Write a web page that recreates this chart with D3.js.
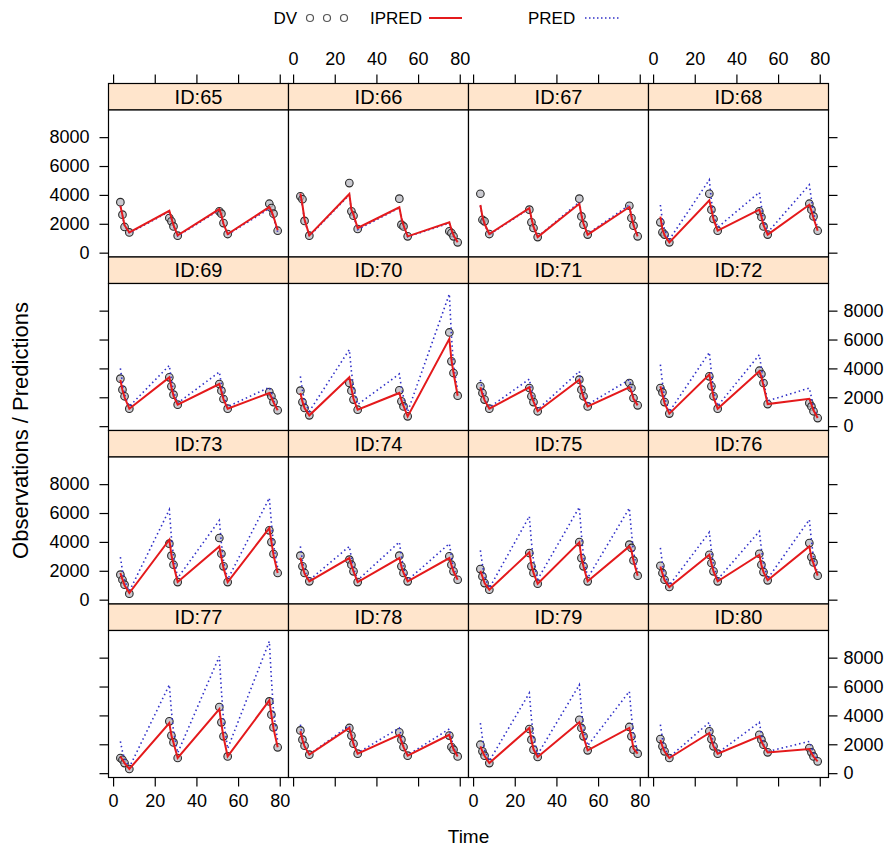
<!DOCTYPE html>
<html>
<head>
<meta charset="utf-8">
<script src="https://cdn.jsdelivr.net/npm/d3@7"></script>
<style>
  body { margin: 0; background: #fff; }
  svg { font-family: "Liberation Sans", Arial, sans-serif; }
</style>
</head>
<body>
<svg id="chart" width="895" height="856"></svg>
<script>
// panel ids, sampling times and tick labels
const ids = [65, 66, 67, 68, 69, 70, 71, 72, 73, 74, 75, 76, 77, 78, 79, 80];
const times = [3.5, 4.5, 5.5, 7.8, 27, 28, 29, 31, 51, 52, 53, 55, 75, 76, 77, 79];
const xTicks = [0, 20, 40, 60, 80];
const yTicks = [0, 2000, 4000, 6000, 8000];

// observations, one row per id
const dv = [
  [3500, 2630, 1780, 1400, 2400, 2170, 1820, 1180, 2860, 2700, 2050, 1290, 3390, 3090, 2700, 1520],
  [3900, 3700, 2200, 1180, 4820, 2860, 2560, 1640, 3740, 1940, 1820, 1130, 1480, 1360, 1130, 715],
  [4080, 2280, 2170, 1290, 2980, 2100, 1710, 1080, 3740, 2510, 1940, 1250, 3250, 2400, 1870, 1130],
  [2100, 1410, 1250, 715, 4080, 2980, 2330, 1520, 2860, 2470, 1820, 1250, 3390, 2980, 2510, 1520],
  [3290, 2530, 2070, 1210, 3380, 2760, 2180, 1490, 2920, 2460, 1880, 1210, 2360, 2070, 1670, 1100],
  [2460, 1670, 1260, 750, 2990, 2460, 1840, 1140, 2480, 1720, 1370, 680, 6490, 4490, 3680, 2110],
  [2760, 2300, 1840, 1210, 2640, 2070, 1670, 1030, 3220, 2530, 2070, 1370, 2990, 2640, 1950, 1440],
  [2640, 2340, 1670, 870, 3450, 2760, 2070, 1210, 3840, 3610, 2990, 1530, 1600, 1370, 1030, 560],
  [1730, 1380, 1040, 415, 3880, 3050, 2420, 1220, 4270, 3180, 2310, 1220, 4800, 3990, 3160, 1850],
  [3050, 2310, 1850, 1270, 2770, 2420, 1960, 1220, 3050, 2310, 1850, 1270, 3000, 2420, 1960, 1380],
  [2120, 1610, 1150, 690, 3230, 2310, 1850, 1110, 3990, 2880, 2310, 1270, 3810, 3580, 2720, 1660],
  [2350, 1850, 1380, 880, 3110, 2540, 1960, 1270, 3180, 2420, 1910, 1340, 3920, 2950, 2580, 1660],
  [1050, 930, 700, 290, 3590, 2600, 2130, 1050, 4580, 3520, 2550, 1160, 4970, 4050, 3170, 1790],
  [2960, 2320, 1900, 1280, 3130, 2600, 2040, 1350, 2830, 2320, 1810, 1210, 2600, 1810, 1630, 1160],
  [1970, 1510, 1210, 700, 3060, 2320, 1630, 1120, 3700, 3130, 2550, 1580, 3200, 2550, 1630, 1350],
  [2360, 1860, 1510, 1050, 2900, 2360, 1860, 1350, 2660, 2320, 1970, 1440, 1740, 1440, 1160, 820]
];

// individual predictions
const ipred = [
  [3250, 2600, 1900, 1400, 2900, 2400, 1900, 1200, 3020, 2600, 2000, 1290, 3160, 2900, 2500, 1550],
  [4100, 3300, 2300, 1200, 4060, 2980, 2630, 1710, 3140, 2400, 1900, 1130, 2100, 1600, 1200, 715],
  [3300, 2500, 2000, 1290, 3090, 2400, 1800, 1080, 3390, 2600, 2000, 1250, 3160, 2500, 1900, 1130],
  [2500, 1600, 1200, 715, 3620, 3000, 2300, 1520, 2980, 2500, 1900, 1250, 3320, 2900, 2400, 1520],
  [3200, 2500, 2000, 1210, 3380, 2700, 2100, 1490, 2920, 2400, 1850, 1210, 2300, 2000, 1650, 1100],
  [2300, 1700, 1250, 750, 3380, 2600, 1900, 1140, 2300, 1800, 1400, 680, 6050, 4600, 3700, 2110],
  [2700, 2200, 1800, 1210, 2690, 2100, 1700, 1030, 3220, 2500, 2000, 1370, 2690, 2400, 1900, 1440],
  [2760, 2200, 1600, 870, 3570, 2800, 2000, 1210, 3800, 3400, 2800, 1530, 1900, 1500, 1100, 560],
  [1850, 1400, 1000, 460, 4150, 3100, 2400, 1220, 3690, 2900, 2200, 1220, 4960, 4000, 3100, 1850],
  [2900, 2300, 1800, 1270, 2880, 2400, 1950, 1220, 2880, 2300, 1850, 1270, 2880, 2400, 1950, 1380],
  [2000, 1600, 1150, 690, 3280, 2400, 1850, 1110, 3970, 2900, 2300, 1270, 3690, 3400, 2700, 1660],
  [2300, 1800, 1350, 880, 3110, 2500, 1950, 1270, 3110, 2400, 1900, 1340, 3690, 2900, 2500, 1660],
  [1160, 930, 700, 290, 3470, 2600, 2100, 1050, 4440, 3400, 2500, 1160, 5040, 4000, 3100, 1790],
  [2900, 2300, 1850, 1280, 3130, 2600, 2000, 1350, 2660, 2200, 1800, 1210, 2660, 2100, 1650, 1160],
  [1860, 1500, 1200, 700, 3130, 2300, 1650, 1120, 3520, 3000, 2500, 1580, 3130, 2500, 1700, 1350],
  [2300, 1850, 1500, 1050, 2780, 2300, 1850, 1350, 2550, 2200, 1900, 1440, 1670, 1400, 1150, 820]
];

// population predictions
const pred = [
  [3200, 2550, 1850, 1350, 2850, 2350, 1850, 1150, 2950, 2550, 1950, 1250, 3050, 2800, 2400, 1450],
  [4000, 3200, 2250, 1150, 4000, 2900, 2550, 1600, 3100, 2350, 1850, 1100, 2050, 1550, 1150, 700],
  [3250, 2450, 1950, 1250, 3050, 2350, 1750, 1100, 3500, 2700, 2050, 1300, 3300, 2600, 1950, 1180],
  [3300, 2200, 1600, 900, 5050, 3600, 2600, 1750, 4180, 3200, 2300, 1400, 4700, 3700, 2800, 1700],
  [4000, 3000, 2200, 1370, 4210, 3200, 2400, 1600, 3750, 2900, 2100, 1350, 2690, 2300, 1800, 1150],
  [3450, 2500, 1700, 1030, 5300, 3800, 2700, 1500, 3610, 2700, 2000, 1000, 9150, 6300, 4200, 2500],
  [3200, 2500, 1900, 1300, 3260, 2500, 1900, 1150, 3800, 2900, 2200, 1500, 3220, 2700, 2000, 1450],
  [4260, 3000, 2000, 1000, 5110, 3700, 2500, 1400, 4950, 4000, 3100, 1750, 2640, 2000, 1300, 650],
  [2950, 2000, 1300, 580, 6230, 4300, 3000, 1500, 5490, 3900, 2700, 1400, 7040, 5300, 3800, 2200],
  [3690, 2700, 2000, 1350, 3690, 2900, 2200, 1350, 3990, 3000, 2200, 1350, 3880, 3000, 2200, 1450],
  [3410, 2400, 1600, 800, 5770, 4000, 2700, 1400, 6410, 4500, 3000, 1500, 6340, 4700, 3300, 1900],
  [3580, 2500, 1700, 1000, 4660, 3400, 2400, 1400, 4730, 3500, 2500, 1450, 5540, 4100, 2900, 1800],
  [2200, 1500, 1000, 400, 6120, 4300, 2900, 1400, 8090, 5700, 3700, 1700, 9130, 6500, 4300, 2200],
  [3360, 2500, 1900, 1300, 3290, 2700, 2100, 1400, 3130, 2500, 1900, 1250, 3060, 2400, 1800, 1200],
  [3470, 2400, 1600, 850, 5550, 3800, 2500, 1300, 6120, 4400, 3100, 1900, 5660, 4000, 2700, 1500],
  [3360, 2400, 1700, 1100, 3520, 2700, 2000, 1400, 3520, 2700, 2000, 1500, 2200, 1800, 1400, 900]
];

const svg = d3.select("#chart");
const nCol = 4, nRow = 4;
const gridLeft = 108.5, gridTop = 83.5;
const colW = 180, rowH = 173.5, stripH = 26.5, panelH = rowH - stripH;
const tick = 9;

const red = "#e41a1c", blue = "#3030c8";

const x = d3.scaleLinear().domain([-2.2, 84.2]).range([0, colW]);
const y = d3.scaleLinear().domain([-300, 9880]).range([panelH, 0]);

// legend
const leg = svg.append("g").attr("font-size", "17px");
leg.append("text").attr("x", 297).attr("y", 24).attr("text-anchor", "end").text("DV");
[310, 327, 344].forEach(cx => {
  leg.append("circle").attr("cx", cx).attr("cy", 18).attr("r", 3.5)
    .attr("fill", "none").attr("stroke", "#555").attr("stroke-width", 1.2);
});
leg.append("text").attr("x", 370).attr("y", 24).text("IPRED");
leg.append("line").attr("x1", 429).attr("x2", 462).attr("y1", 18).attr("y2", 18)
  .attr("stroke", red).attr("stroke-width", 2);
leg.append("text").attr("x", 528).attr("y", 24).text("PRED");
leg.append("line").attr("x1", 585).attr("x2", 620).attr("y1", 18).attr("y2", 18)
  .attr("stroke", blue).attr("stroke-width", 1.5).attr("stroke-dasharray", "1.5,2.5");

const lineGen = (vals) => d3.line()
  .x((d, i) => x(times[i]))
  .y(d => y(d))(vals);

ids.forEach((id, k) => {
  const col = k % nCol, row = Math.floor(k / nCol);
  const gx = gridLeft + col * colW;
  const gy = gridTop + row * rowH;

  // strip
  svg.append("rect")
    .attr("x", gx).attr("y", gy).attr("width", colW).attr("height", stripH)
    .attr("fill", "#ffe5cc").attr("stroke", "#000").attr("stroke-width", 1.2);
  svg.append("text")
    .attr("x", gx + colW / 2).attr("y", gy + stripH / 2).attr("dy", "0.36em")
    .attr("text-anchor", "middle").attr("font-size", "20px")
    .text("ID:" + id);

  const g = svg.append("g").attr("transform", `translate(${gx},${gy + stripH})`);
  g.append("rect").attr("width", colW).attr("height", panelH)
    .attr("fill", "#fff");

  const clip = "clip" + id;
  g.append("clipPath").attr("id", clip).append("rect")
    .attr("width", colW).attr("height", panelH);
  const inner = g.append("g").attr("clip-path", `url(#${clip})`);

  inner.selectAll("circle")
    .data(dv[k])
    .enter()
    .append("circle")
    .attr("cx", (d, i) => x(times[i]))
    .attr("cy", d => y(d))
    .attr("r", 3.8)
    .attr("fill", "#b8b8c0")
    .attr("fill-opacity", 0.75)
    .attr("stroke", "#2a2a2a")
    .attr("stroke-width", 1.1);

  inner.append("path").attr("d", lineGen(pred[k]))
    .attr("fill", "none").attr("stroke", blue).attr("stroke-width", 1.6)
    .attr("stroke-dasharray", "1.5,3");

  inner.append("path").attr("d", lineGen(ipred[k]))
    .attr("fill", "none").attr("stroke", red).attr("stroke-width", 2);

  g.append("rect").attr("width", colW).attr("height", panelH)
    .attr("fill", "none").attr("stroke", "#000").attr("stroke-width", 1.2);
});

// axes on the outer edges, labels alternate like lattice
function styleAxis(sel) {
  sel.select(".domain").remove();
  sel.selectAll(".tick line").attr("stroke", "#000").attr("stroke-width", 1.2);
  sel.selectAll(".tick text").attr("fill", "#000").attr("font-size", "18px")
    .attr("font-family", "Liberation Sans, Arial, sans-serif");
}

for (let row = 0; row < nRow; row++) {
  const py = gridTop + row * rowH + stripH;
  const showLeft = row % 2 === 0;
  svg.append("g")
    .attr("transform", `translate(${gridLeft},${py})`)
    .call(d3.axisLeft(y).tickValues(yTicks).tickSize(tick).tickPadding(10)
      .tickFormat(showLeft ? d3.format("d") : () => ""))
    .call(styleAxis);
  svg.append("g")
    .attr("transform", `translate(${gridLeft + nCol * colW},${py})`)
    .call(d3.axisRight(y).tickValues(yTicks).tickSize(tick).tickPadding(6)
      .tickFormat(showLeft ? () => "" : d3.format("d")))
    .call(styleAxis);
}

for (let col = 0; col < nCol; col++) {
  const px = gridLeft + col * colW;
  const showTop = col % 2 === 1;
  svg.append("g")
    .attr("transform", `translate(${px},${gridTop})`)
    .call(d3.axisTop(x).tickValues(xTicks).tickSize(tick).tickPadding(10)
      .tickFormat(showTop ? d3.format("d") : () => ""))
    .call(styleAxis);
  svg.append("g")
    .attr("transform", `translate(${px},${gridTop + nRow * rowH})`)
    .call(d3.axisBottom(x).tickValues(xTicks).tickSize(tick).tickPadding(8)
      .tickFormat(showTop ? () => "" : d3.format("d")))
    .call(styleAxis);
}

// axis titles
svg.append("text")
  .attr("x", gridLeft + nCol * colW / 2).attr("y", 843)
  .attr("text-anchor", "middle").attr("font-size", "19px")
  .text("Time");

svg.append("text")
  .attr("transform", `translate(28,${gridTop + nRow * rowH / 2}) rotate(-90)`)
  .attr("text-anchor", "middle").attr("font-size", "22px")
  .text("Observations / Predictions");
</script>
</body>
</html>
